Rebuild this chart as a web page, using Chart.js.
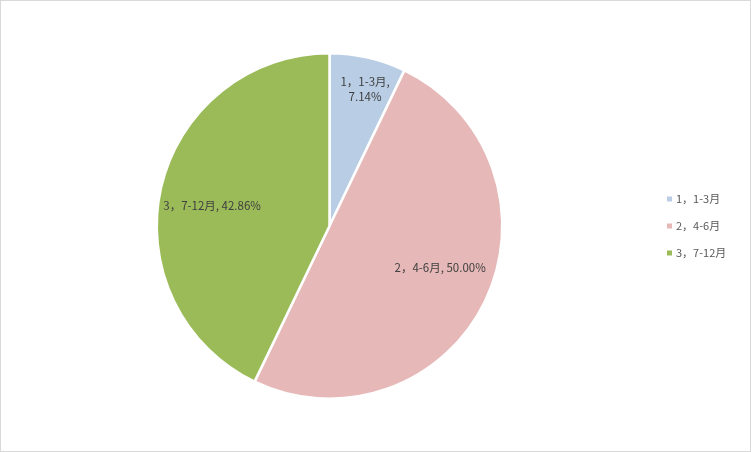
<!DOCTYPE html>
<html>
<head>
<meta charset="utf-8">
<script src="https://cdn.jsdelivr.net/npm/chart.js@4/dist/chart.umd.min.js"></script>
<style>
  html, body { margin: 0; padding: 0; background: #fff; }
  #wrap { position: relative; width: 751px; height: 452px; box-sizing: border-box; border: 1px solid #d9d9d9; }
  canvas { display: block; }
</style>
</head>
<body>
<div id="wrap"><canvas id="c" width="749" height="450"></canvas></div>
<script>
const categories = ['1，1-3月', '2，4-6月', '3，7-12月'];
const values = [7.14, 50.00, 42.86];
const percentLabels = ['7.14%', '50.00%', '42.86%'];
const colors = ['#b9cde5', '#e6b9b8', '#9bbb59'];

const FONT = '"Microsoft YaHei", "Noto Sans CJK SC", sans-serif';

const labelPlugin = {
  id: 'sliceLabels',
  afterDatasetsDraw(chart) {
    const ctx = chart.ctx;
    const meta = chart.getDatasetMeta(0);
    const frac = [0.82, 0.685, 0.69];
    const shift = [1.7, -5, -2.9];
    ctx.save();
    ctx.font = '11.5px ' + FONT;
    ctx.fillStyle = '#404040';
    ctx.textAlign = 'center';
    ctx.textBaseline = 'middle';
    meta.data.forEach((arc, i) => {
      const mid = (arc.startAngle + arc.endAngle) / 2 + shift[i] * Math.PI / 180;
      const r = arc.outerRadius * frac[i];
      const x = arc.x + Math.cos(mid) * r;
      const y = arc.y + Math.sin(mid) * r;
      if (i === 0) {
        ctx.fillText(categories[i] + ',', x, y - 7.5);
        ctx.fillText(percentLabels[i], x, y + 8);
      } else {
        ctx.fillText(categories[i] + ', ' + percentLabels[i], x, y);
      }
    });
    ctx.restore();
  }
};

const legendPlugin = {
  id: 'sideLegend',
  afterDraw(chart) {
    const ctx = chart.ctx;
    ctx.save();
    ctx.font = '11px ' + FONT;
    ctx.textAlign = 'left';
    ctx.textBaseline = 'middle';
    categories.forEach((c, i) => {
      const y = 198 + i * 27;
      ctx.fillStyle = colors[i];
      ctx.fillRect(666, y - 2.5, 5, 5);
      ctx.fillStyle = '#595959';
      ctx.fillText(c, 675, y);
    });
    ctx.restore();
  }
};

new Chart(document.getElementById('c'), {
  type: 'pie',
  data: {
    labels: categories,
    datasets: [{
      data: values,
      backgroundColor: colors,
      borderColor: '#ffffff',
      borderWidth: 2.5,
      hoverOffset: 0
    }]
  },
  options: {
    responsive: false,
    animation: false,
    layout: { padding: { left: 154, right: 246, top: 51, bottom: 51 } },
    plugins: {
      legend: { display: false },
      tooltip: { enabled: false }
    }
  },
  plugins: [labelPlugin, legendPlugin]
});
</script>
</body>
</html>
